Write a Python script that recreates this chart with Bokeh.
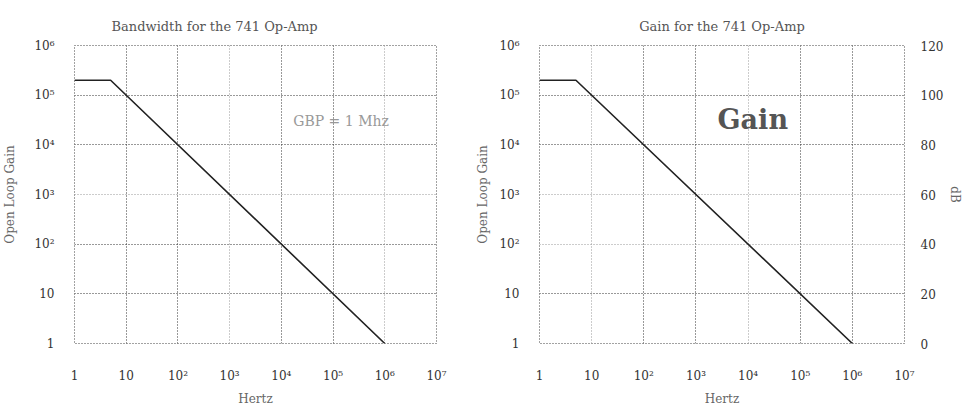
from bokeh.plotting import figure
from bokeh.layouts import row
from bokeh.models import FixedTicker, Grid, LinearAxis, Range1d, Label, ColumnDataSource, LinearScale
from bokeh.embed import file_html
from bokeh.resources import INLINE

# ---- data ----
freq_hz = [1, 5, 1e6]
open_loop_gain = [2e5, 2e5, 1]
x_ticks = [1, 10, 1e2, 1e3, 1e4, 1e5, 1e6, 1e7]
x_tick_labels = ["1", "10", "10²", "10³", "10⁴", "10⁵", "10⁶", "10⁷"]
y_ticks = [1, 10, 1e2, 1e3, 1e4, 1e5, 1e6]
y_tick_labels = ["1", "10", "10²", "10³", "10⁴", "10⁵", "10⁶"]
db_ticks = [0, 20, 40, 60, 80, 100, 120]
db_tick_labels = ["0", "20", "40", "60", "80", "100", "120"]

left_dark_x = [10, 1e2, 1e4, 1e5]
left_light_x = [1e3, 1e6]
left_dark_y = [10, 1e2, 1e4, 1e5]
left_light_y = [1e3]
right_dark_x = [1e2, 1e3, 1e5, 1e6]
right_light_x = [10, 1e4]
right_dark_y = [10, 1e4, 1e5]
right_light_y = [1e2, 1e3]

FONT = "DejaVu Serif"


def style(p, dark_x, light_x, dark_y, light_y):
    p.outline_line_color = "#444"
    p.outline_line_dash = "1 2"
    p.outline_line_width = 1
    for ax in p.axis:
        ax.axis_line_color = None
        ax.major_tick_line_color = None
        ax.minor_tick_line_color = None
        ax.major_label_text_font = FONT
        ax.major_label_text_font_size = "12px"
        ax.major_label_text_color = "#333"
        ax.axis_label_text_font = FONT
        ax.axis_label_text_font_size = "12px"
        ax.axis_label_text_font_style = "normal"
        ax.axis_label_text_color = "#666"
    p.xaxis.ticker = FixedTicker(ticks=x_ticks)
    p.xaxis.major_label_overrides = {t: l for t, l in zip(x_ticks, x_tick_labels)}
    p.yaxis[0].ticker = FixedTicker(ticks=y_ticks)
    p.yaxis[0].major_label_overrides = {t: l for t, l in zip(y_ticks, y_tick_labels)}
    p.xaxis.major_label_standoff = 19
    p.yaxis[0].major_label_standoff = 14
    p.xgrid.ticker = FixedTicker(ticks=dark_x)
    p.ygrid.ticker = FixedTicker(ticks=dark_y)
    p.xgrid.grid_line_color = "#333"
    p.ygrid.grid_line_color = "#333"
    p.xgrid.grid_line_dash = "1 2"
    p.ygrid.grid_line_dash = "1 2"
    p.add_layout(Grid(dimension=0, ticker=FixedTicker(ticks=light_x),
                      grid_line_color="#999", grid_line_dash="1 2"))
    p.add_layout(Grid(dimension=1, ticker=FixedTicker(ticks=light_y),
                      grid_line_color="#999", grid_line_dash="1 2"))
    p.title.text_font = FONT
    p.title.text_font_size = "13px"
    p.title.text_font_style = "normal"
    p.title.text_color = "#555"
    p.title.standoff = 24
    p.background_fill_color = "white"
    p.border_fill_color = "white"


src = ColumnDataSource(data=dict(f=freq_hz, g=open_loop_gain))

# ---- left ----
p1 = figure(frame_width=362, frame_height=298, x_axis_type="log", y_axis_type="log",
            x_range=Range1d(1, 1e7), y_range=Range1d(1, 1e6),
            title="Bandwidth for the 741 Op-Amp",
            x_axis_label="Hertz", y_axis_label="Open Loop Gain",
            output_backend="svg", toolbar_location=None,
            min_border_left=71, min_border_right=37, min_border_top=45, min_border_bottom=56)
style(p1, left_dark_x, left_light_x, left_dark_y, left_light_y)
p1.title.align = "left"
p1.title.offset = 37
p1.yaxis.axis_label_standoff = 14
p1.xaxis.axis_label_standoff = 6
p1.line("f", "g", source=src, line_color="#222", line_width=1.6)
p1.add_layout(Label(x=1.7e4, y=3e4, text="GBP = 1 Mhz", text_font=FONT,
                    text_font_size="14px", text_color="#999", text_baseline="middle"))

# ---- right ----
p2 = figure(frame_width=365, frame_height=298, x_axis_type="log", y_axis_type="log",
            x_range=Range1d(1, 1e7), y_range=Range1d(1, 1e6),
            title="Gain for the 741 Op-Amp",
            x_axis_label="Hertz", y_axis_label="Open Loop Gain",
            output_backend="svg", toolbar_location=None,
            min_border_left=66, min_border_right=41, min_border_top=45, min_border_bottom=56)
p2.extra_y_ranges = {"db": Range1d(0, 120)}
p2.extra_y_scales = {"db": LinearScale()}
db_axis = LinearAxis(y_range_name="db", ticker=FixedTicker(ticks=db_ticks), axis_label="dB")
db_axis.major_label_overrides = {t: l for t, l in zip(db_ticks, db_tick_labels)}
p2.add_layout(db_axis, "right")
style(p2, right_dark_x, right_light_x, right_dark_y, right_light_y)
p2.title.align = "center"
db_axis.major_label_standoff = 10
db_axis.axis_label_standoff = 2
p2.yaxis[0].axis_label_standoff = 6
p2.xaxis.axis_label_standoff = 6
p2.line("f", "g", source=src, line_color="#222", line_width=1.6)
p2.add_layout(Label(x=2.6e3, y=3.3e4, text="Gain", text_font=FONT,
                    text_font_size="27px", text_font_style="bold", text_color="#555",
                    text_baseline="middle"))

layout = row(p1, p2)
open("out.html", "w").write(file_html(layout, INLINE))
